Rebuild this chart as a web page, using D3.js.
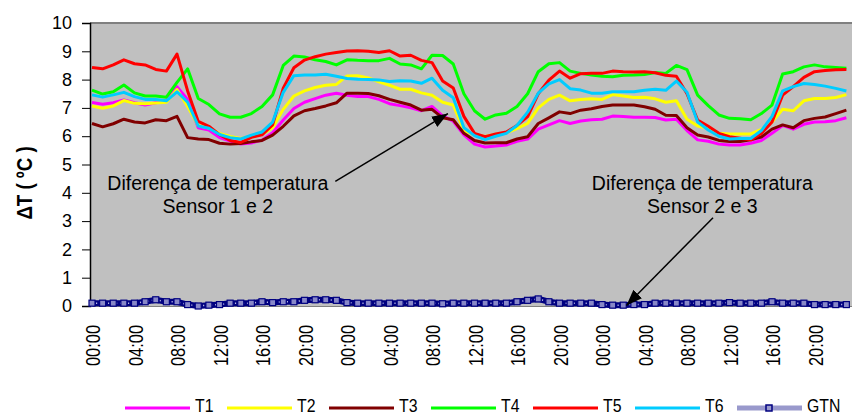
<!DOCTYPE html>
<html><head><meta charset="utf-8">
<script src="https://cdn.jsdelivr.net/npm/d3@7/dist/d3.min.js"></script>
<style>body{margin:0;background:#fff}svg{display:block}text{font-family:"Liberation Sans",Arial,sans-serif;fill:#000}</style>
</head><body><svg id="c" width="852" height="417"></svg>
<script>
// hourly samples starting 00:00 of day 1
const hours = d3.range(72);
const tickHours = [0,4,8,12,16,20,24,28,32,36,40,44,48,52,56,60,64,68];
const tickLabels = ["00:00","04:00","08:00","12:00","16:00","20:00","00:00","04:00","08:00","12:00","16:00","20:00","00:00","04:00","08:00","12:00","16:00","20:00"];
const yTicks = [0,1,2,3,4,5,6,7,8,9,10];

const T1 = [7.19,7.13,7.18,7.28,7.18,7.10,7.18,7.25,7.75,7.30,6.30,6.22,5.95,5.83,5.72,5.76,5.86,6.12,6.57,6.98,7.20,7.33,7.45,7.52,7.45,7.40,7.40,7.30,7.15,7.08,7.00,6.90,7.05,6.72,6.53,6.05,5.72,5.62,5.65,5.69,5.82,5.90,6.25,6.40,6.55,6.45,6.54,6.58,6.60,6.71,6.70,6.67,6.67,6.66,6.57,6.60,6.20,5.87,5.82,5.72,5.69,5.69,5.75,5.85,6.10,6.38,6.25,6.42,6.50,6.51,6.55,6.65];
const T2 = [7.07,6.99,7.07,7.26,7.16,7.15,7.17,7.20,7.65,7.05,6.38,6.29,6.10,5.99,5.92,6.00,6.07,6.30,6.95,7.42,7.60,7.72,7.80,7.83,8.13,8.14,8.06,7.92,7.80,7.66,7.66,7.53,7.45,7.20,7.10,6.20,6.05,5.99,6.07,6.12,6.27,6.45,7.00,7.30,7.45,7.25,7.30,7.32,7.30,7.47,7.42,7.37,7.38,7.32,7.20,7.25,6.60,6.36,6.28,6.10,6.08,6.08,6.08,6.24,6.50,6.95,6.90,7.25,7.33,7.33,7.37,7.47];
const T3 = [6.45,6.33,6.44,6.60,6.50,6.47,6.58,6.55,6.70,5.95,5.90,5.88,5.75,5.72,5.74,5.80,5.85,6.04,6.35,6.72,6.90,6.98,7.07,7.18,7.52,7.52,7.51,7.43,7.30,7.20,7.10,6.92,6.95,6.65,6.58,6.10,5.85,5.76,5.77,5.77,5.90,5.98,6.45,6.65,6.86,6.80,6.92,6.97,7.05,7.10,7.10,7.10,7.04,6.95,6.74,6.73,6.30,6.04,5.97,5.85,5.81,5.81,5.87,5.97,6.25,6.40,6.30,6.55,6.63,6.68,6.80,6.92];
const T4 = [7.63,7.49,7.57,7.81,7.53,7.42,7.42,7.38,7.90,8.38,7.33,7.12,6.79,6.67,6.67,6.80,7.05,7.46,8.50,8.83,8.80,8.70,8.64,8.52,8.70,8.68,8.67,8.67,8.75,8.55,8.52,8.38,8.86,8.85,8.55,7.50,6.90,6.60,6.75,6.81,7.05,7.50,8.28,8.56,8.60,8.30,8.22,8.16,8.12,8.10,8.15,8.16,8.18,8.25,8.22,8.50,8.35,7.45,7.08,6.75,6.63,6.62,6.58,6.80,7.10,8.20,8.28,8.45,8.52,8.45,8.43,8.40];
const T5 = [8.43,8.38,8.52,8.70,8.56,8.52,8.36,8.30,8.90,7.60,6.52,6.35,6.05,5.85,5.78,5.96,6.05,6.40,7.70,8.42,8.69,8.81,8.90,8.96,9.01,9.02,9.00,8.96,9.02,8.83,8.86,8.68,8.60,7.95,7.70,6.70,6.10,5.98,6.08,6.15,6.38,6.69,7.50,7.98,8.30,8.05,8.21,8.22,8.22,8.30,8.28,8.27,8.28,8.24,8.15,8.12,7.50,6.57,6.35,6.10,5.98,5.93,5.87,6.10,6.50,7.45,7.75,8.08,8.28,8.32,8.35,8.36];
const T6 = [7.46,7.38,7.46,7.55,7.40,7.30,7.30,7.25,7.57,7.20,6.36,6.28,6.06,5.95,5.90,6.04,6.15,6.50,7.55,8.14,8.16,8.16,8.19,8.12,8.04,8.01,8.00,7.99,7.93,7.96,7.95,7.87,8.05,7.62,7.36,6.30,6.02,5.88,6.00,6.10,6.38,6.85,7.52,7.85,8.00,7.68,7.63,7.52,7.52,7.57,7.57,7.57,7.62,7.66,7.62,7.95,7.55,6.50,6.22,6.00,5.90,5.92,5.92,6.20,6.70,7.60,7.75,7.86,7.83,7.77,7.69,7.60];
const GTN = [0.10,0.10,0.10,0.10,0.10,0.15,0.22,0.15,0.15,0.05,0.00,0.03,0.05,0.10,0.10,0.10,0.15,0.12,0.15,0.15,0.20,0.22,0.22,0.20,0.12,0.10,0.10,0.10,0.10,0.10,0.10,0.10,0.10,0.08,0.10,0.10,0.10,0.10,0.10,0.10,0.15,0.20,0.25,0.15,0.10,0.10,0.10,0.10,0.05,0.03,0.03,0.05,0.05,0.10,0.10,0.10,0.10,0.10,0.10,0.10,0.12,0.10,0.10,0.10,0.15,0.10,0.10,0.10,0.05,0.05,0.05,0.05];

const seriesNames = ["T1","T2","T3","T4","T5","T6"];
const seriesValues = [T1,T2,T3,T4,T5,T6];
const seriesColors = ["#ff00ff","#ffff00","#800000","#00ff00","#ff0000","#00ccff"];

const W = 852, H = 417;
const svg = d3.select("#c");
const x = d3.scaleLinear().domain([0, 72]).range([92, 92 + 72 * 10.625]);
const y = d3.scaleLinear().domain([0, 10]).range([306, 23]);
const plotL = 90;

svg.append("rect").attr("x", plotL).attr("y", y(10)).attr("width", W - plotL + 10)
  .attr("height", y(0) - y(10)).attr("fill", "#c0c0c0");
svg.append("line").attr("x1", plotL).attr("x2", W).attr("y1", y(10)).attr("y2", y(10))
  .attr("stroke", "#808080").attr("stroke-width", 2);

// y axis
const yAxis = svg.append("g").attr("transform", `translate(${plotL},0)`)
  .call(d3.axisLeft(y).tickValues(yTicks).tickSize(8).tickPadding(10).tickFormat(d3.format("d")));
yAxis.select(".domain").attr("stroke", "#000").attr("stroke-width", 1.5);
yAxis.selectAll(".tick line").attr("stroke", "#000");
yAxis.selectAll(".tick text").style("font-size", "18px").attr("font-family", null);

// x axis labels
const xAxis = svg.append("g").attr("transform", `translate(0,${y(0)})`)
  .call(d3.axisBottom(x).tickValues(tickHours).tickSize(0).tickFormat((d, i) => tickLabels[i]));
xAxis.select(".domain").attr("stroke", "#808080").attr("stroke-width", 1);
xAxis.selectAll(".tick text")
  .attr("transform", "translate(0,19) rotate(-90) scale(0.78,1)")
  .attr("x", 0).attr("y", 0).attr("dy", "0.36em")
  .attr("text-anchor", "end")
  .style("font-size", "21px");

// y title
svg.append("text").attr("transform", "translate(24,183) rotate(-90) scale(0.85,1)")
  .attr("text-anchor", "middle").attr("dy", "0.36em")
  .style("font-size", "22px").style("font-weight", "bold").text("\u0394T ( \u00baC )");

// lines
const line = d3.line().x((d, i) => x(hours[i])).y(d => y(d));
seriesValues.forEach((vals, k) => {
  svg.append("path").datum(vals).attr("d", line).attr("fill", "none")
    .attr("stroke", seriesColors[k]).attr("stroke-width", 3).attr("stroke-linejoin", "round");
});
// GTN
svg.append("path").datum(GTN).attr("d", line).attr("fill", "none")
  .attr("stroke", "#000080").attr("stroke-width", 6);
svg.append("path").datum(GTN).attr("d", line).attr("fill", "none")
  .attr("stroke", "#b8b8e8").attr("stroke-width", 1.5).attr("stroke-dasharray", "1.2,2.8");
svg.selectAll("rect.gm").data(GTN).enter().append("rect").attr("class", "gm")
  .attr("x", (d, i) => x(hours[i]) - 3).attr("y", d => y(d) - 3)
  .attr("width", 6).attr("height", 6).attr("fill", "#8888c8").attr("stroke", "#000080").attr("stroke-width", 1.2);

// annotations
const defs = svg.append("defs");
defs.append("marker").attr("id", "ah").attr("markerUnits", "userSpaceOnUse")
  .attr("markerWidth", 18).attr("markerHeight", 14).attr("refX", 16).attr("refY", 6)
  .attr("orient", "auto").append("path").attr("d", "M0,0 L16,6 L0,12 Z").attr("fill", "#000");
const notes = [
  {h: 11.85, v: 4.1, lines: ["Diferença de temperatura", "Sensor 1 e 2"], from: [22.9, 4.4], to: [33.5, 6.8]},
  {h: 57.45, v: 4.1, lines: ["Diferença de temperatura", "Sensor 2 e 3"], from: [58.45, 3.12], to: [50.3, 0.02]}
];
notes.forEach(n => {
  n.lines.forEach((t, j) => {
    svg.append("text").attr("x", x(n.h)).attr("y", y(n.v) + j * 23).attr("text-anchor", "middle")
      .style("font-size", "19.5px").text(t);
  });
  svg.append("line").attr("x1", x(n.from[0])).attr("y1", y(n.from[1]))
    .attr("x2", x(n.to[0])).attr("y2", y(n.to[1]))
    .attr("stroke", "#000").attr("stroke-width", 1.5).attr("marker-end", "url(#ah)");
});

// legend
const legNames = seriesNames.concat(["GTN"]);
const legColors = seriesColors.concat(["#9999cc"]);
legNames.forEach((nm, i) => {
  const lx = 125 + i * 102;
  const g = svg.append("g");
  g.append("line").attr("x1", lx).attr("x2", lx + 65).attr("y1", 408).attr("y2", 408)
    .attr("stroke", legColors[i]).attr("stroke-width", nm === "GTN" ? 5 : 3);
  if (nm === "GTN") {
    g.append("rect").attr("x", lx + 29).attr("y", 405).attr("width", 6).attr("height", 6)
      .attr("fill", "#9999cc").attr("stroke", "#000080").attr("stroke-width", 1.5);
  }
  g.append("text").attr("transform", `translate(${lx + 70},412) scale(0.88,1)`)
    .style("font-size", "18px").text(nm);
});
</script></body></html>
